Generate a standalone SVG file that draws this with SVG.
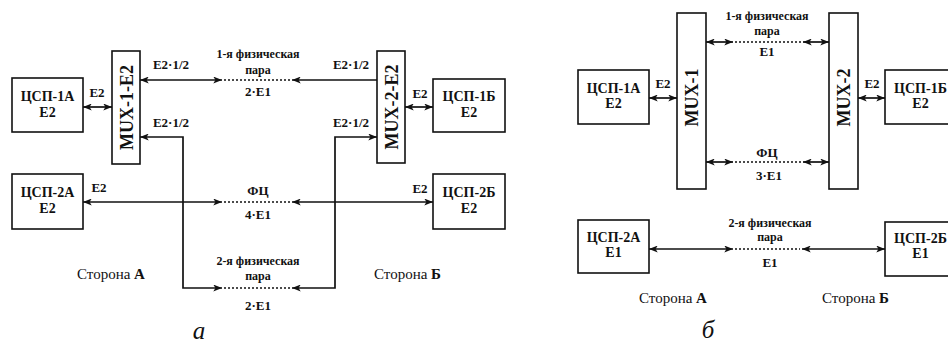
<svg xmlns="http://www.w3.org/2000/svg" width="948" height="345" viewBox="0 0 948 345">
  <style>
    .box { fill: #fff; stroke: #111; stroke-width: 1.6; }
    .ln { fill: none; stroke: #111; stroke-width: 1.7; }
    .dot { fill: none; stroke: #111; stroke-width: 1.6; stroke-dasharray: 2 2; }
    .arr2 { marker-start: url(#ah); marker-end: url(#ah); }
    .arrE { marker-end: url(#ah); }
    .arrS { marker-start: url(#ah); }
    text { font-family: "Liberation Serif", "Times New Roman", serif; fill: #111; text-anchor: middle; }
    .bt { font-size: 14px; font-weight: bold; }
    .lb { font-size: 13px; font-weight: bold; }
    .sm { font-size: 12px; font-weight: bold; }
    .mux { font-size: 18px; font-weight: bold; }
    .side { font-size: 15px; text-anchor: start; }
    .cap { font-size: 25px; font-style: italic; }
  </style>
  <defs>
    <marker id="ah" viewBox="0 0 10 8" refX="10" refY="4" markerWidth="9" markerHeight="7" markerUnits="userSpaceOnUse" orient="auto-start-reverse">
      <path d="M0,0 L10,4 L0,8 L2.5,4 z" fill="#111"/>
    </marker>
  </defs>
  <rect width="948" height="345" fill="#fff"/>

  <!-- Panel a: nodes -->
  <g id="a-csp1a">
    <rect class="box" x="12" y="78" width="71" height="54"/>
    <text class="bt" x="47.5" y="101">ЦСП-1А</text>
    <text class="bt" x="47.5" y="117">E2</text>
  </g>
  <g id="a-csp2a">
    <rect class="box" x="12" y="174" width="71" height="55"/>
    <text class="bt" x="47.5" y="197">ЦСП-2А</text>
    <text class="bt" x="47.5" y="213">E2</text>
  </g>
  <g id="a-mux1">
    <rect class="box" x="112" y="51" width="28" height="113"/>
    <text class="mux" transform="translate(133,107.5) rotate(-90)">MUX-1-E2</text>
  </g>
  <g id="a-mux2">
    <rect class="box" x="377" y="51" width="28" height="112"/>
    <text class="mux" transform="translate(398,107) rotate(-90)">MUX-2-E2</text>
  </g>
  <g id="a-csp1b">
    <rect class="box" x="433" y="79" width="72" height="53"/>
    <text class="bt" x="469" y="101">ЦСП-1Б</text>
    <text class="bt" x="469" y="117">E2</text>
  </g>
  <g id="a-csp2b">
    <rect class="box" x="433" y="174" width="72" height="55"/>
    <text class="bt" x="469" y="197">ЦСП-2Б</text>
    <text class="bt" x="469" y="213">E2</text>
  </g>

  <!-- Panel a: connectors -->
  <g id="a-links">
    <path class="ln arr2" d="M83,107 H112"/>
    <path class="ln arr2" d="M405,107 H433"/>
    <path class="ln arr2" d="M140,80 H222"/>
    <path class="dot" d="M224,80 H290"/>
    <path class="ln arrS" d="M292,80 H377"/>
    <path class="ln arr2" d="M83,202 H222"/>
    <path class="dot" d="M224,202 H290"/>
    <path class="ln arr2" d="M292,202 H433"/>
    <path class="ln arr2" d="M140,137 H183 V288 H222"/>
    <path class="dot" d="M224,288 H290"/>
    <path class="ln arr2" d="M292,288 H335 V137 H377"/>
  </g>

  <!-- Panel a: labels -->
  <g id="a-labels">
    <text class="lb" x="97" y="97">E2</text>
    <text class="lb" x="420" y="98">E2</text>
    <text class="lb" x="99" y="192">E2</text>
    <text class="lb" x="420" y="193">E2</text>
    <text class="lb" x="171" y="69">E2·1/2</text>
    <text class="lb" x="171" y="127">E2·1/2</text>
    <text class="lb" x="351" y="69">E2·1/2</text>
    <text class="lb" x="351" y="127">E2·1/2</text>
    <text class="sm" x="258" y="58">1-я физическая</text>
    <text class="sm" x="258" y="74">пара</text>
    <text class="lb" x="258" y="96">2·E1</text>
    <text class="lb" x="258" y="195">ФЦ</text>
    <text class="lb" x="258" y="219">4·E1</text>
    <text class="sm" x="258" y="265">2-я физическая</text>
    <text class="sm" x="258" y="280">пара</text>
    <text class="lb" x="258" y="310">2·E1</text>
    <text class="side" x="77" y="279">Сторона <tspan font-weight="bold">А</tspan></text>
    <text class="side" x="374" y="279">Сторона <tspan font-weight="bold">Б</tspan></text>
    <text class="cap" x="199" y="339">а</text>
  </g>

  <!-- Panel b: nodes -->
  <g id="b-csp1a">
    <rect class="box" x="578" y="70" width="71" height="54"/>
    <text class="bt" x="613.5" y="93">ЦСП-1А</text>
    <text class="bt" x="613.5" y="108">E2</text>
  </g>
  <g id="b-mux1">
    <rect class="box" x="677" y="13" width="29" height="176"/>
    <text class="mux" transform="translate(698,97.5) rotate(-90)">MUX-1</text>
  </g>
  <g id="b-mux2">
    <rect class="box" x="829" y="13" width="29" height="176"/>
    <text class="mux" transform="translate(850,97.5) rotate(-90)">MUX-2</text>
  </g>
  <g id="b-csp1b">
    <rect class="box" x="885" y="70" width="71" height="54"/>
    <text class="bt" x="920.5" y="93">ЦСП-1Б</text>
    <text class="bt" x="920.5" y="108">E2</text>
  </g>
  <g id="b-csp2a">
    <rect class="box" x="578" y="220" width="71" height="53"/>
    <text class="bt" x="613.5" y="242">ЦСП-2А</text>
    <text class="bt" x="613.5" y="257">E1</text>
  </g>
  <g id="b-csp2b">
    <rect class="box" x="885" y="222" width="71" height="54"/>
    <text class="bt" x="920.5" y="243">ЦСП-2Б</text>
    <text class="bt" x="920.5" y="258">E1</text>
  </g>

  <!-- Panel b: connectors -->
  <g id="b-links">
    <path class="ln arr2" d="M649,98 H677"/>
    <path class="ln arr2" d="M858,98 H885"/>
    <path class="ln arr2" d="M706,42 H733"/>
    <path class="dot" d="M735,42 H801"/>
    <path class="ln arr2" d="M803,42 H829"/>
    <path class="ln arr2" d="M706,162 H733"/>
    <path class="dot" d="M735,162 H801"/>
    <path class="ln arr2" d="M803,162 H829"/>
    <path class="ln arr2" d="M649,249 H733"/>
    <path class="dot" d="M735,249 H800"/>
    <path class="ln arr2" d="M802,249 H885"/>
  </g>

  <!-- Panel b: labels -->
  <g id="b-labels">
    <text class="lb" x="663" y="88">E2</text>
    <text class="lb" x="872" y="88">E2</text>
    <text class="sm" x="767" y="20">1-я физическая</text>
    <text class="sm" x="767" y="35">пара</text>
    <text class="lb" x="767" y="56">E1</text>
    <text class="lb" x="767" y="157">ФЦ</text>
    <text class="lb" x="769" y="180">3·E1</text>
    <text class="sm" x="770" y="227">2-я физическая</text>
    <text class="sm" x="770" y="241">пара</text>
    <text class="lb" x="770" y="267">E1</text>
    <text class="side" x="639" y="303">Сторона <tspan font-weight="bold">А</tspan></text>
    <text class="side" x="822" y="303">Сторона <tspan font-weight="bold">Б</tspan></text>
    <text class="cap" x="708" y="338">б</text>
  </g>
</svg>
